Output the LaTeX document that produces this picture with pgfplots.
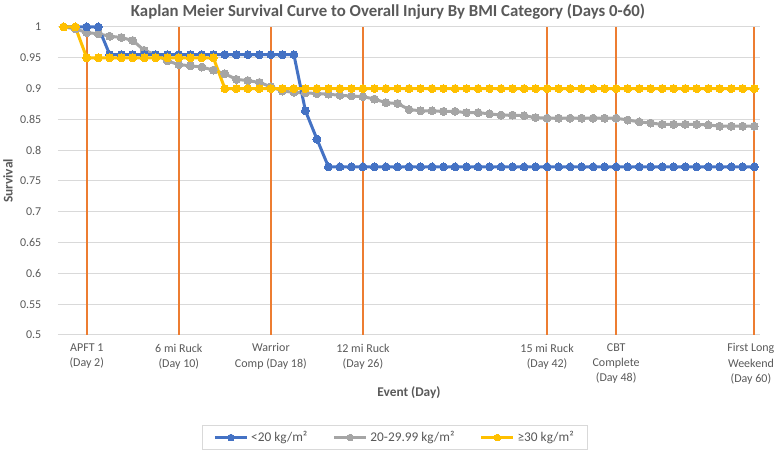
\documentclass[border=0pt]{standalone}
\usepackage{pgfplots}
\pgfplotsset{compat=1.18}
\usepackage{pgfplotstable}
\usepackage{fontspec}
\setmainfont{Carlito}
\definecolor{cblue}{HTML}{4472C4}
\definecolor{cgray}{HTML}{A5A5A5}
\definecolor{cyel}{HTML}{FFC000}
\definecolor{corange}{HTML}{ED7D31}
\definecolor{ctext}{HTML}{595959}
\definecolor{cgrid}{HTML}{D9D9D9}

\pgfplotstableread{
day val
0 1.000
1 1.000
2 1.000
3 1.000
4 0.955
5 0.955
6 0.955
7 0.955
8 0.955
9 0.955
10 0.955
11 0.955
12 0.955
13 0.955
14 0.955
15 0.955
16 0.955
17 0.955
18 0.955
19 0.955
20 0.955
21 0.864
22 0.818
23 0.773
24 0.773
25 0.773
26 0.773
27 0.773
28 0.773
29 0.773
30 0.773
31 0.773
32 0.773
33 0.773
34 0.773
35 0.773
36 0.773
37 0.773
38 0.773
39 0.773
40 0.773
41 0.773
42 0.773
43 0.773
44 0.773
45 0.773
46 0.773
47 0.773
48 0.773
49 0.773
50 0.773
51 0.773
52 0.773
53 0.773
54 0.773
55 0.773
56 0.773
57 0.773
58 0.773
59 0.773
60 0.773
}\bluedata

\pgfplotstableread{
day val
0 1.000
1 0.997
2 0.991
3 0.989
4 0.985
5 0.983
6 0.978
7 0.962
8 0.955
9 0.945
10 0.939
11 0.937
12 0.935
13 0.930
14 0.924
15 0.915
16 0.913
17 0.910
18 0.903
19 0.896
20 0.894
21 0.893
22 0.892
23 0.891
24 0.889
25 0.888
26 0.887
27 0.883
28 0.877
29 0.876
30 0.866
31 0.864
32 0.864
33 0.863
34 0.863
35 0.861
36 0.861
37 0.859
38 0.857
39 0.857
40 0.856
41 0.853
42 0.852
43 0.852
44 0.852
45 0.852
46 0.852
47 0.852
48 0.852
49 0.849
50 0.846
51 0.844
52 0.842
53 0.842
54 0.842
55 0.842
56 0.841
57 0.839
58 0.839
59 0.839
60 0.839
}\graydata

\pgfplotstableread{
day val
0 1.000
1 1.000
2 0.950
3 0.950
4 0.950
5 0.950
6 0.950
7 0.950
8 0.950
9 0.950
10 0.950
11 0.950
12 0.950
13 0.950
14 0.900
15 0.900
16 0.900
17 0.900
18 0.900
19 0.900
20 0.900
21 0.900
22 0.900
23 0.900
24 0.900
25 0.900
26 0.900
27 0.900
28 0.900
29 0.900
30 0.900
31 0.900
32 0.900
33 0.900
34 0.900
35 0.900
36 0.900
37 0.900
38 0.900
39 0.900
40 0.900
41 0.900
42 0.900
43 0.900
44 0.900
45 0.900
46 0.900
47 0.900
48 0.900
49 0.900
50 0.900
51 0.900
52 0.900
53 0.900
54 0.900
55 0.900
56 0.900
57 0.900
58 0.900
59 0.900
60 0.900
}\yeldata

\begin{document}
\begin{tikzpicture}
\useasboundingbox (-43.5pt,-87.75pt) rectangle (539.25pt,251.25pt);
\begin{axis}[
  at={(0,0)}, anchor=south west,
  scale only axis, width=526.5pt, height=231pt,
  xmin=-0.5, xmax=60.5, ymin=0.5, ymax=1,
  clip=false,
  axis x line=bottom, axis y line=left,
  x axis line style={draw=cgrid, line width=0.75pt, -},
  y axis line style={draw=none},
  ymajorgrids, grid style={draw=cgrid, line width=0.75pt},
  major tick length=0,
  ytick={0.5,0.55,0.6,0.65,0.7,0.75,0.8,0.85,0.9,0.95,1},
  yticklabels={0.5,0.55,0.6,0.65,0.7,0.75,0.8,0.85,0.9,0.95,1},
  xtick={2,10,18,26,42,48},
  xticklabels={{APFT 1\\(Day 2)},{6 mi Ruck\\(Day 10)},{Warrior\\Comp (Day 18)},{12 mi Ruck\\(Day 26)},{15 mi Ruck\\(Day 42)},{CBT\\Complete\\(Day 48)}},
  extra x ticks={60},
  extra x tick labels={{First Long\\Weekend\\(Day 60)}},
  extra x tick style={xticklabel style={xshift=-2.5pt}},
  xticklabel style={align=center, font=\fontsize{9}{11.4}\selectfont, text=ctext, yshift=-3pt},
  yticklabel style={font=\fontsize{9}{11}\selectfont, text=ctext, xshift=-9pt},
  /pgf/number format/assume math mode=true,
  legend columns=3,
  legend style={at={(0.480,-0.333)}, anchor=center, draw=cgrid, line width=0.75pt,
    font=\fontsize{10}{12}\selectfont, text=ctext, inner xsep=8pt, inner ysep=2.5pt,
    /tikz/every even column/.append style={column sep=17pt},
    /tikz/every odd column/.append style={column sep=0pt}},
  legend image code/.code={
    \draw[#1, mark=none] (0pt,0pt) -- (24pt,0pt);
    \draw[#1, only marks, mark size=2.5pt] plot coordinates {(12pt,0pt)};
  },
]
\addplot[corange, line width=1.5pt, forget plot] coordinates {(2,0.5) (2,1)};
\addplot[corange, line width=1.5pt, forget plot] coordinates {(10,0.5) (10,1)};
\addplot[corange, line width=1.5pt, forget plot] coordinates {(18,0.5) (18,1)};
\addplot[corange, line width=1.5pt, forget plot] coordinates {(26,0.5) (26,1)};
\addplot[corange, line width=1.5pt, forget plot] coordinates {(42,0.5) (42,1)};
\addplot[corange, line width=1.5pt, forget plot] coordinates {(48,0.5) (48,1)};
\addplot[corange, line width=1.5pt, forget plot] coordinates {(60,0.5) (60,1)};

\addplot[cgray, line width=2.25pt, mark=*, mark size=3pt, mark options={solid, fill=cgray, draw=cgray, line width=0pt}, forget plot] table[x=day, y=val] {\graydata};
\addplot[cblue, line width=2.25pt, mark=*, mark size=3pt, mark options={solid, fill=cblue, draw=cblue, line width=0pt}, forget plot] table[x=day, y=val] {\bluedata};
\addplot[cyel, line width=2.25pt, mark=*, mark size=3pt, mark options={solid, fill=cyel, draw=cyel, line width=0pt}, forget plot] table[x=day, y=val] {\yeldata};

\addlegendimage{cblue, line width=2.25pt, mark=*, mark options={fill=cblue, draw=cblue, line width=0pt}}
\addlegendentry{<20 kg/m²}
\addlegendimage{cgray, line width=2.25pt, mark=*, mark options={fill=cgray, draw=cgray, line width=0pt}}
\addlegendentry{20-29.99 kg/m²}
\addlegendimage{cyel, line width=2.25pt, mark=*, mark options={fill=cyel, draw=cyel, line width=0pt}}
\addlegendentry{≥30 kg/m²}
\end{axis}
\node[font=\bfseries\fontsize{12.6}{15}\selectfont, text=ctext] at (247.5pt,242.25pt) {Kaplan Meier Survival Curve to Overall Injury By BMI Category (Days 0-60)};
\node[font=\bfseries\fontsize{10}{12}\selectfont, text=ctext] at (263.25pt,-43.5pt) {Event (Day)};
\node[font=\bfseries\fontsize{10}{12}\selectfont, text=ctext, rotate=90] at (-37.5pt,115.5pt) {Survival};
\end{tikzpicture}
\end{document}
